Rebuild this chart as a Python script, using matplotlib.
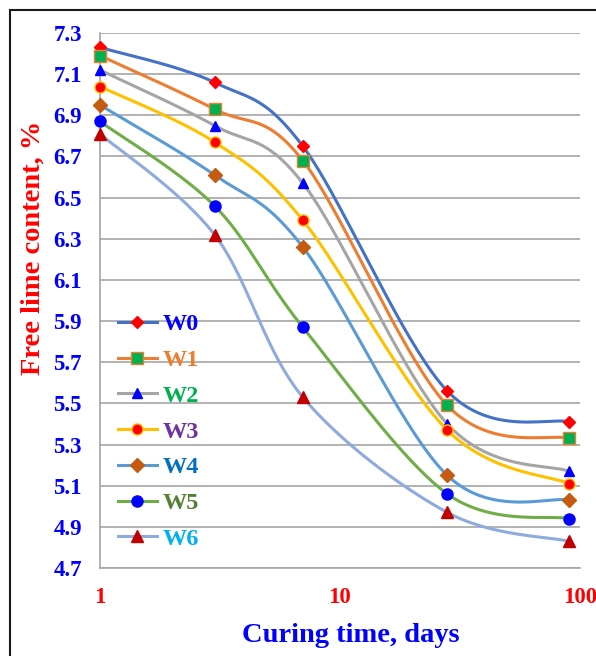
import numpy as np
import matplotlib
matplotlib.use("Agg")
import matplotlib.pyplot as plt
from matplotlib.lines import Line2D

days = [1, 3, 7, 28, 90]
series_names = ["W0", "W1", "W2", "W3", "W4", "W5", "W6"]
W0 = [7.23, 7.06, 6.75, 5.56, 5.41]
W1 = [7.19, 6.93, 6.68, 5.49, 5.33]
W2 = [7.12, 6.85, 6.57, 5.40, 5.17]
W3 = [7.04, 6.77, 6.39, 5.37, 5.11]
W4 = [6.95, 6.61, 6.26, 5.15, 5.03]
W5 = [6.87, 6.46, 5.87, 5.06, 4.94]
W6 = [6.81, 6.32, 5.53, 4.97, 4.83]
values = [W0, W1, W2, W3, W4, W5, W6]
yticks = [4.7, 4.9, 5.1, 5.3, 5.5, 5.7, 5.9, 6.1, 6.3, 6.5, 6.7, 6.9, 7.1, 7.3]
xticks = [1, 10, 100]

line_colors = ["#4472C4", "#ED7D31", "#A5A5A5", "#FFC000", "#5B9BD5", "#70AD47", "#8FAADC"]
marker_shapes = ["D", "s", "^", "o", "D", "o", "^"]
marker_faces = ["#FF0000", "#00B050", "#0000FF", "#FF0000", "#C55A11", "#0000FF", "#C00000"]
marker_edges = ["#FF0000", "#ED7D31", "#0000FF", "#FFC000", "#C55A11", "#0000FF", "#C00000"]
marker_sizes = [6, 8, 7, 8, 7, 8, 8]
legend_text_colors = ["#0000FF", "#ED7D31", "#00B050", "#7030A0", "#0070C0", "#548235", "#00B0F0"]

FONT = "Liberation Serif"


def smooth(xs, ys, n=40):
    # Excel-like smoothing (Catmull-Rom Bezier) in (log10 x, y) space
    u = np.log10(np.asarray(xs, float))
    y = np.asarray(ys, float)
    P = np.column_stack([u, y])
    out = []
    for i in range(len(P) - 1):
        p0 = P[i - 1] if i > 0 else P[i]
        p1 = P[i]
        p2 = P[i + 1]
        p3 = P[i + 2] if i + 2 < len(P) else P[i + 1]
        c1 = p1 + (p2 - p0) / 6.0
        c2 = p2 - (p3 - p1) / 6.0
        t = np.linspace(0, 1, n)[:, None]
        seg = ((1 - t) ** 3) * p1 + 3 * ((1 - t) ** 2) * t * c1 + 3 * (1 - t) * t ** 2 * c2 + t ** 3 * p2
        out.append(seg if i == 0 else seg[1:])
    S = np.vstack(out)
    return 10 ** S[:, 0], S[:, 1]


W, H = 596, 656
fig = plt.figure(figsize=(W / 100, H / 100), dpi=100)
ax = fig.add_axes([100 / W, 1 - 568 / H, 480 / W, 535 / H])

for i, (name, vals) in enumerate(zip(series_names, values)):
    sx, sy = smooth(days, vals)
    ax.plot(sx, sy, color=line_colors[i], lw=2.2, zorder=3, solid_capstyle="round")
    ax.plot(days, vals, linestyle="none", marker=marker_shapes[i], ms=marker_sizes[i],
            mfc=marker_faces[i], mec=marker_edges[i], mew=1.0, zorder=4, clip_on=False)

ax.set_xscale("log")
ax.set_xlim(1, 100)
ax.set_ylim(4.7, 7.3)
ax.set_yticks(yticks)
ax.set_yticklabels([f"{v:.1f}" for v in yticks])
ax.set_xticks(xticks)
ax.set_xticklabels([str(v) for v in xticks])
ax.xaxis.set_minor_locator(matplotlib.ticker.NullLocator())
ax.tick_params(axis="both", length=0)
ax.tick_params(axis="y", pad=13)
ax.tick_params(axis="x", pad=14)
for lab in ax.get_yticklabels():
    lab.set_fontfamily(FONT); lab.set_fontweight("bold"); lab.set_fontsize(16.5); lab.set_color("#0000FF")
for lab in ax.get_xticklabels():
    lab.set_fontfamily(FONT); lab.set_fontweight("bold"); lab.set_fontsize(16.5); lab.set_color("#FF0000")

ax.grid(axis="y", color="#A6A6A6", lw=1.2)
ax.set_axisbelow(True)
for s in ["top", "right"]:
    ax.spines[s].set_visible(False)
for s in ["left", "bottom"]:
    ax.spines[s].set_color("#A6A6A6")
    ax.spines[s].set_linewidth(1.2)

fig.text(33 / W, 1 - 248 / H, "Free lime content, %", rotation=90, ha="center", va="center",
         fontfamily=FONT, fontweight="bold", fontsize=20.5, color="#FF0000")
fig.text(351 / W, 1 - 636 / H, "Curing time, days", ha="center", va="center",
         fontfamily=FONT, fontweight="bold", fontsize=20.5, color="#0000FF")

handles = []
for i in range(len(series_names)):
    handles.append(Line2D([0], [0], color=line_colors[i], lw=2.2, marker=marker_shapes[i],
                          ms=marker_sizes[i], mfc=marker_faces[i], mec=marker_edges[i]))
leg = ax.legend(handles, series_names, loc="upper left", bbox_to_anchor=(0.017, 0.494),
                frameon=False, prop={"family": FONT, "weight": "bold", "size": 17.5},
                handlelength=1.6, handletextpad=0.25, labelspacing=0.565, borderaxespad=0)
for t, c in zip(leg.get_texts(), legend_text_colors):
    t.set_color(c)

# outer frame (top and left edges visible)
fig.add_artist(Line2D([10 / W, 10 / W], [0, 1 - 10 / H], transform=fig.transFigure,
                      color="#1a1a1a", lw=1.5))
fig.add_artist(Line2D([10 / W, 1], [1 - 10 / H, 1 - 10 / H], transform=fig.transFigure,
                      color="#1a1a1a", lw=1.5))

fig.savefig("out.png", dpi=100, facecolor="white")
